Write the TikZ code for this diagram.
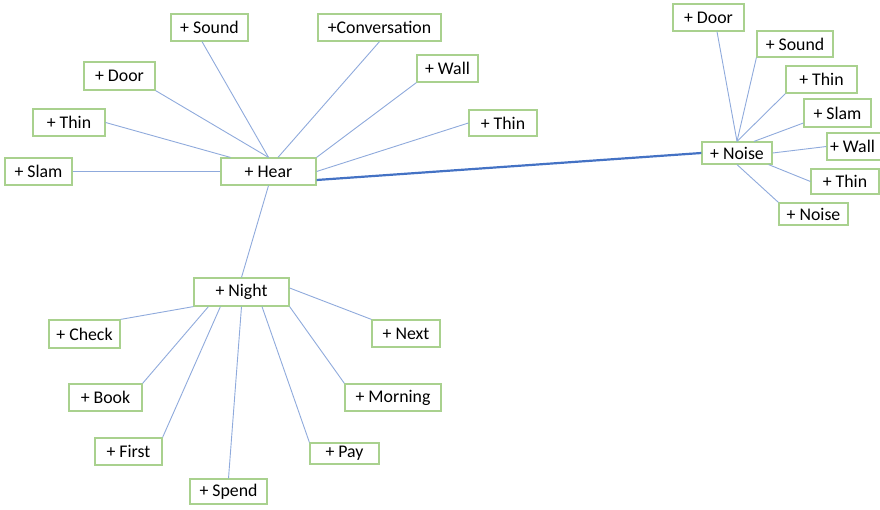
\documentclass[tikz,border=0pt]{standalone}
\usepackage{fontspec}
\setmainfont{Carlito}
\definecolor{boxgreen}{HTML}{A9D18E}
\definecolor{linkblue}{HTML}{8FAADC}
\definecolor{mainblue}{HTML}{4472C4}
\begin{document}
\begin{tikzpicture}[x=1pt,y=-1pt,
  word/.style={draw=boxgreen,line width=1.2pt,fill=white,inner sep=0pt,
    font=\fontsize{17.8}{20}\selectfont,text=black},
  link/.style={draw=linkblue,line width=0.9pt},
  mainlink/.style={draw=mainblue,line width=2.2pt}]
\useasboundingbox (0,0) rectangle (880,510);
% box from (x1,y1) to (x2,y2)
\newcommand{\wordbox}[6]{%
  \node[word,minimum width={#4-#2},minimum height={#5-#3}]
    (#1) at ({(#2+#4)/2},{(#3+#5)/2}) {#6};}
% --- Hear cluster
\wordbox{hear}{221}{158}{316}{185}{+ Hear}
\wordbox{hsound}{171}{14}{248}{41}{+ Sound}
\wordbox{hdoor}{84}{62}{155}{90}{+ Door}
\wordbox{hthin}{33}{109}{105}{136}{+ Thin}
\wordbox{hslam}{5}{158}{72}{185}{+ Slam}
\wordbox{hconv}{318}{14}{441}{41}{+Conversation}
\wordbox{hwall}{417}{55}{478}{82}{+ Wall}
\wordbox{hthinr}{469}{110}{537}{136}{+ Thin}
% --- Noise cluster
\wordbox{noise}{702}{142}{772}{164}{+ Noise}
\wordbox{ndoor}{673}{4}{744}{31}{+ Door}
\wordbox{nsound}{757}{31}{833}{57}{+ Sound}
\wordbox{nthin}{786}{66}{857}{93}{+ Thin}
\wordbox{nslam}{804}{99}{871}{127}{+ Slam}
\wordbox{nwall}{827}{133}{888}{160}{\hspace*{-10pt}+ Wall}
\wordbox{nthinb}{811}{169}{879}{194}{+ Thin}
\wordbox{nnoise}{779}{203}{848}{225}{+ Noise}
% --- Night cluster
\wordbox{night}{194}{278}{289}{306}{+ Night}
\wordbox{check}{49}{320}{120}{348}{+ Check}
\wordbox{book}{69}{384}{142}{411}{+ Book}
\wordbox{first}{95}{438}{162}{465}{+ First}
\wordbox{spend}{190}{479}{267}{504}{+ Spend}
\wordbox{pay}{310}{443}{379}{464}{+ Pay}
\wordbox{morning}{345}{384}{441}{411}{+ Morning}
\wordbox{next}{372}{320}{440}{347}{+ Next}
% connectors
\draw[link] ([xshift=-7.5pt]hsound.south) -- (hear.north);
\draw[link] (hdoor.south east) -- (hear.north);
\draw[link] (hthin.east) -- ([xshift=10pt]hear.north west);
\draw[link] (hslam.east) -- (hear.west);
\draw[link] (hconv.south) -- ([xshift=9.5pt]hear.north);
\draw[link] (hwall.south west) -- (hear.north east);
\draw[link] (hthinr.west) -- (hear.east);
\draw[mainlink] ([yshift=-8.5pt]hear.east) -- (noise.west);
\draw[link] ([xshift=8.5pt]ndoor.south) -- (noise.north);
\draw[link] (nsound.south west) -- (noise.north);
\draw[link] (nthin.south west) -- (noise.north);
\draw[link] ([yshift=-10pt]nslam.west) -- ([xshift=17pt]noise.north);
\draw[link] (nwall.west) -- (noise.east);
\draw[link] (nthinb.west) -- ([xshift=-4pt]noise.south east);
\draw[link] (nnoise.north west) -- (noise.south);
\draw[link] (night.north) -- (hear.south);
\draw[link] (check.north east) -- (night.south west);
\draw[link] (book.north east) -- ([xshift=15pt]night.south west);
\draw[link] (first.north east) -- ([xshift=27pt]night.south west);
\draw[link] (spend.north) -- (night.south);
\draw[link] (pay.north west) -- ([xshift=20.5pt]night.south);
\draw[link] (morning.north west) -- (night.south east);
\draw[link] (next.north west) -- ([yshift=4pt]night.east);
\end{tikzpicture}
\end{document}
